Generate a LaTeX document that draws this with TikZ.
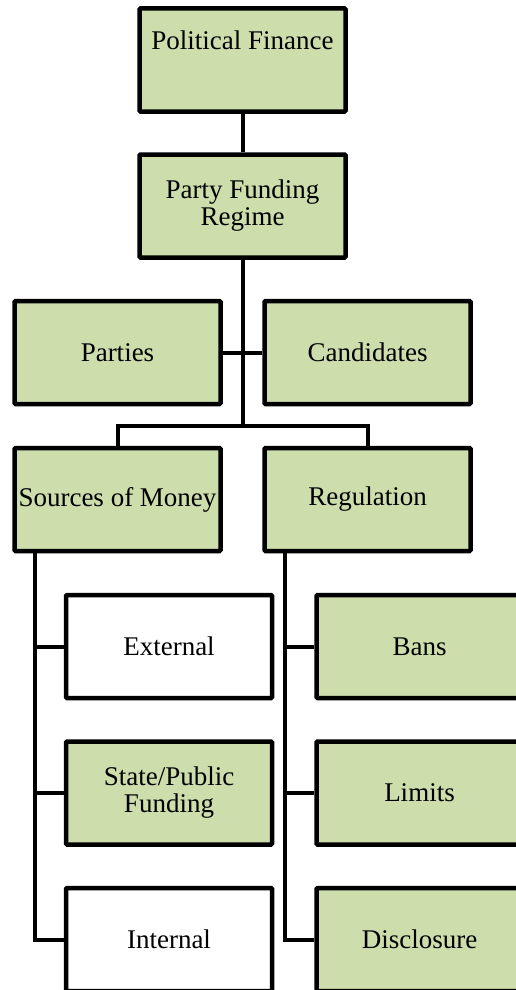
\documentclass[tikz,border=0pt]{standalone}
\usepackage{fontspec}
\setmainfont{Liberation Serif}
\definecolor{boxgreen}{RGB}{205,221,172}
\begin{document}
\begin{tikzpicture}[x=1pt,y=-1pt,
  box/.style={draw, line width=4.5pt, minimum width=206pt, minimum height=103pt,
    inner sep=0pt, align=center, font=\fontsize{27}{27}\selectfont,
    fill=boxgreen, rounded corners=1pt},
  whitebox/.style={box, fill=white},
  link/.style={line width=4pt}]
\useasboundingbox (0,0) rectangle (516,990);
\clip (0,0) rectangle (516,990);
\node[box, text height=18pt, text depth=40pt] (pf) at (242.5,60) {Political Finance};
\node[box] (pfr) at (242.5,206) {Party Funding\\Regime};
\node[box] (parties) at (117.5,352.5) {Parties};
\node[box] (cand) at (367.5,352.5) {Candidates};
\node[box] (src) at (117.5,499.5) {Sources of Money};
\node[box] (reg) at (367.5,499.5) {Regulation};
\node[whitebox] (ext) at (169,646.5) {External};
\node[box] (state) at (169,793) {State/Public\\Funding};
\node[whitebox] (int) at (169,939.5) {Internal};
\node[box] (bans) at (419.5,646.5) {Bans};
\node[box] (lim) at (419.5,793) {Limits};
\node[box] (disc) at (419.5,939.5) {Disclosure};
\coordinate (bus) at (242.5,426);
\coordinate (ltrunk) at (35,0);
\coordinate (rtrunk) at (285,0);
\draw[link] (pf.south) -- (pfr.north);
\draw[link] (pfr.south) -- (bus);
\draw[link] (parties.east) -- (cand.west);
\draw[link] (src.north) |- (bus) -| (reg.north);
\draw[link] (src.south -| ltrunk) -- (int.west -| ltrunk) -- (int.west);
\draw[link] (ext.west -| ltrunk) -- (ext.west);
\draw[link] (state.west -| ltrunk) -- (state.west);
\draw[link] (reg.south -| rtrunk) -- (disc.west -| rtrunk) -- (disc.west);
\draw[link] (bans.west -| rtrunk) -- (bans.west);
\draw[link] (lim.west -| rtrunk) -- (lim.west);
\end{tikzpicture}
\end{document}
